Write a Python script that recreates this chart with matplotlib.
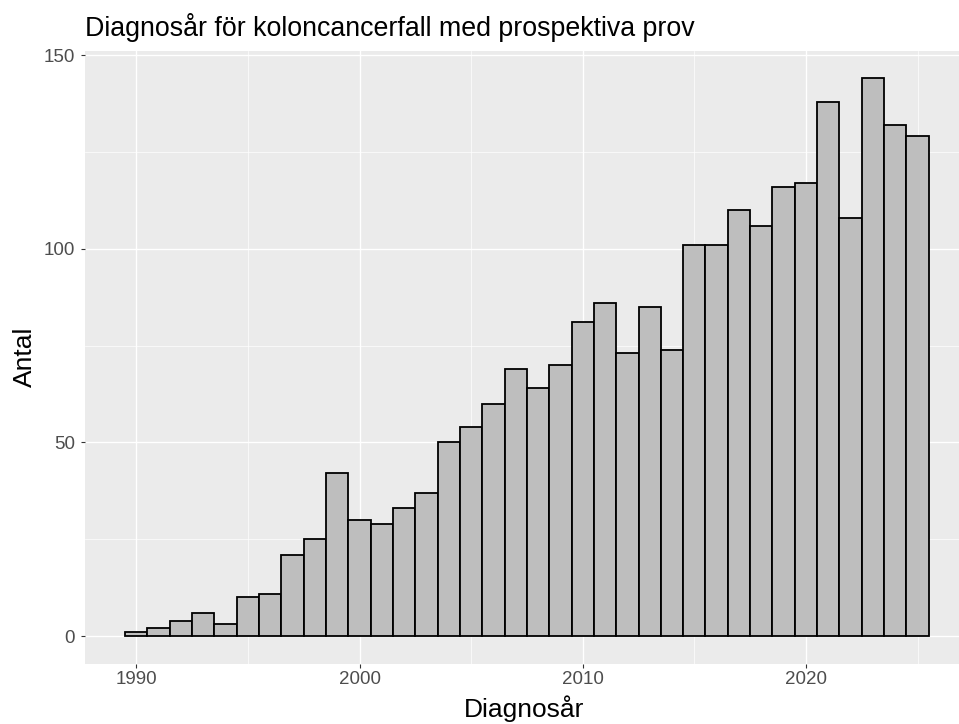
import matplotlib
matplotlib.use("Agg")
import matplotlib.pyplot as plt
from matplotlib.ticker import MultipleLocator

# data (binwidth 1 year)
years = list(range(1990, 2026))
counts = [1, 2, 4, 6, 3, 10, 11, 21, 25, 42,
          30, 29, 33, 37, 50, 54, 60, 69, 64, 70,
          81, 86, 73, 85, 74, 101, 101, 110, 106, 116,
          117, 138, 108, 144, 132, 129]

x_ticks = [1990, 2000, 2010, 2020]
y_ticks = [0, 50, 100, 150]

title = "Diagnosår för koloncancerfall med prospektiva prov"
x_label = "Diagnosår"
y_label = "Antal"

plt.rcParams['font.family'] = ['Liberation Sans', 'DejaVu Sans']

W, H = 959, 724
fig = plt.figure(figsize=(W / 100, H / 100), dpi=100)

# panel box in pixels
left_px, right_px, top_px, bottom_px = 85, 959, 50.5, 664
ax = fig.add_axes([left_px / W, 1 - bottom_px / H,
                   (right_px - left_px) / W, (bottom_px - top_px) / H])

ax.set_facecolor('#EBEBEB')
for s in ax.spines.values():
    s.set_visible(False)

ax.set_axisbelow(True)
ax.xaxis.set_minor_locator(MultipleLocator(5))
ax.yaxis.set_minor_locator(MultipleLocator(25))
ax.grid(which='major', color='white', linewidth=1.0)
ax.grid(which='minor', color='white', linewidth=0.5)

ax.bar(years, counts, width=1.0, color='#BEBEBE', edgecolor='black',
       linewidth=1.3, zorder=3)

px_per_year = 22.32
x0 = 1987.7
ax.set_xlim(x0, x0 + (right_px - left_px) / px_per_year)
ax.set_ylim(-7.2, 151.2)

ax.set_xticks(x_ticks)
ax.set_yticks(y_ticks)
ax.tick_params(which='major', length=2.9, width=0.8, color='#333333',
               labelcolor='#4D4D4D', labelsize=13.5, pad=2.5)
ax.tick_params(axis='y', which='major', pad=4.5)
ax.tick_params(which='minor', length=0)

fig.text(left_px / W, 1 - 36 / H, title, fontsize=19.3, color='black',
         ha='left', va='baseline')
fig.text(524 / W, 1 - 717 / H, x_label, fontsize=19, color='black',
         ha='center', va='baseline')
fig.text(25 / W, 1 - 357 / H, y_label, fontsize=19, color='black',
         ha='center', va='center', rotation=90)

fig.savefig('out.png', dpi=100)
